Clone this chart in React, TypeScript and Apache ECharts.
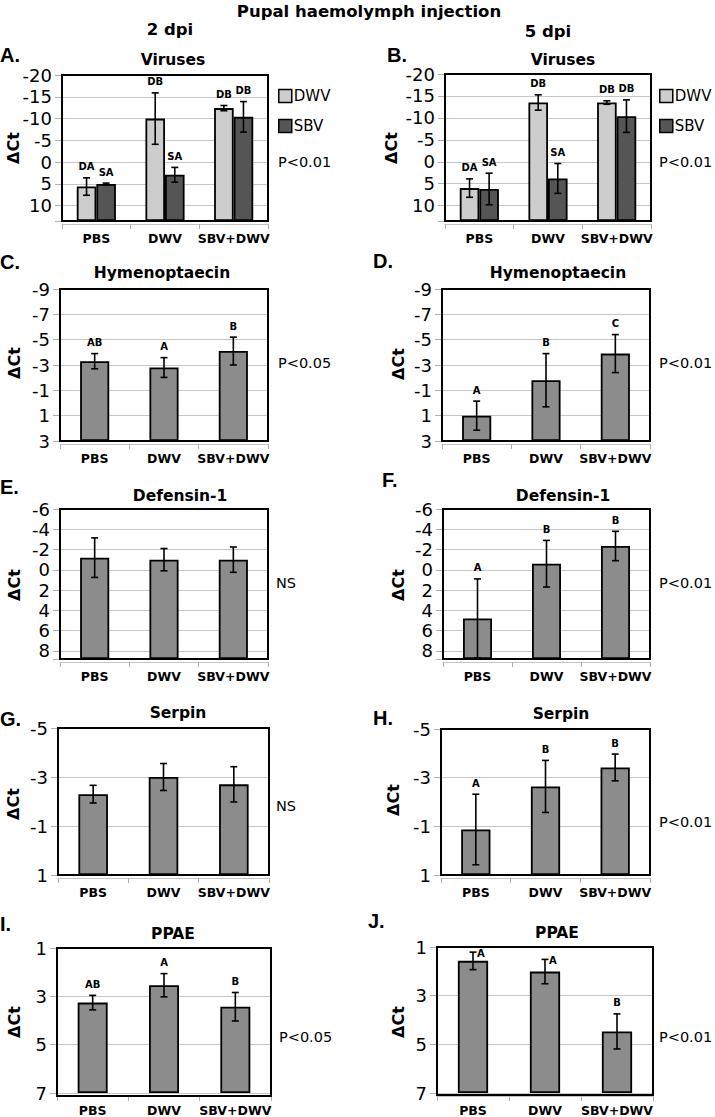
import React, { useEffect, useRef } from 'react';
import * as echarts from 'echarts';

const FONT = '"DejaVu Sans", sans-serif';
const LETTER_FONT = '"Liberation Sans", Arial, sans-serif';

const categories = ['PBS', 'DWV', 'SBV+DWV'];
const legendNames = ['DWV', 'SBV'];

// Axis ranges [min, max, interval]
const virusAxis = [-20, 13.5, 5];
const hymAxis = [-9, 3, 2];
const defAxis = [-6, 8.8, 2];
const serAxis = [-5, 1, 2];
const ppaeAxis = [1, 7, 2];

// A. Viruses 2 dpi
const virus2DWV = [5.6, -10.0, -12.4];
const virus2DWVErr = [2.0, 5.9, 0.6];
const virus2DWVLetters = ['DA', 'DB', 'DB'];
const virus2SBV = [5.0, 2.9, -10.4];
const virus2SBVErr = [0.2, 1.7, 3.5];
const virus2SBVLetters = ['SA', 'SA', 'DB'];

// B. Viruses 5 dpi
const virus5DWV = [6.0, -13.5, -13.5];
const virus5DWVErr = [2.1, 1.75, 0.4];
const virus5DWVLetters = ['DA', 'DB', 'DB'];
const virus5SBV = [6.2, 3.8, -10.4];
const virus5SBVErr = [3.6, 3.4, 3.7];
const virus5SBVLetters = ['SA', 'SA', 'DB'];

// C / D. Hymenoptaecin
const hym2 = [-3.3, -2.8, -4.1];
const hym2Err = [0.6, 0.78, 1.1];
const hym2Letters = ['AB', 'A', 'B'];
const hym5 = [1.0, -1.8, -3.9];
const hym5Err = [1.15, 2.1, 1.5];
const hym5Letters = ['A', 'B', 'C'];

// E / F. Defensin-1
const def2 = [-1.2, -1.0, -1.0];
const def2Err = [1.95, 1.1, 1.25];
const def2Letters = ['', '', ''];
const def5 = [4.8, -0.6, -2.35];
const def5Err = [3.9, 2.3, 1.45];
const def5Letters = ['A', 'B', 'B'];

// G / H. Serpin
const ser2 = [-2.3, -3.0, -2.7];
const ser2Err = [0.36, 0.55, 0.72];
const ser2Letters = ['', '', ''];
const ser5 = [-0.87, -2.64, -3.42];
const ser5Err = [1.45, 1.07, 0.55];
const ser5Letters = ['A', 'B', 'B'];

// I / J. PPAE
const ppae2 = [3.26, 2.54, 3.43];
const ppae2Err = [0.3, 0.48, 0.59];
const ppae2Letters = ['AB', 'A', 'B'];
const ppae5 = [1.57, 2.01, 4.47];
const ppae5Err = [0.36, 0.5, 0.72];
const ppae5Letters = ['A', 'A', 'B'];

const pValues = ['P<0.01', 'P<0.01', 'P<0.05', 'P<0.01', 'NS', 'P<0.01', 'NS', 'P<0.01', 'P<0.05', 'P<0.01'];
const panelTitles = ['Viruses', 'Viruses', 'Hymenoptaecin', 'Hymenoptaecin', 'Defensin-1', 'Defensin-1', 'Serpin', 'Serpin', 'PPAE', 'PPAE'];
const panelLetters = ['A.', 'B.', 'C.', 'D.', 'E.', 'F.', 'G.', 'H.', 'I.', 'J.'];

const DWV_COLOR = '#cdcdcd';
const SBV_COLOR = '#555555';
const BAR_COLOR = '#8c8c8c';

type S = { name?: string; values: number[]; errs: number[]; letters: string[]; color: string };
type Panel = {
  box: number[]; // left, top, right, bottom
  axis: number[];
  series: S[];
  titlePos: number[];
  letterPos: number[];
  yNamePos: number[];
  pPos: number[];
};

const panels: Panel[] = [
  {
    box: [62, 75, 268, 221], axis: virusAxis,
    series: [
      { name: 'DWV', values: virus2DWV, errs: virus2DWVErr, letters: virus2DWVLetters, color: DWV_COLOR },
      { name: 'SBV', values: virus2SBV, errs: virus2SBVErr, letters: virus2SBVLetters, color: SBV_COLOR },
    ],
    titlePos: [173, 60], letterPos: [0, 55], yNamePos: [13, 148], pPos: [278, 162],
  },
  {
    box: [445, 74, 651, 221], axis: virusAxis,
    series: [
      { name: 'DWV', values: virus5DWV, errs: virus5DWVErr, letters: virus5DWVLetters, color: DWV_COLOR },
      { name: 'SBV', values: virus5SBV, errs: virus5SBVErr, letters: virus5SBVLetters, color: SBV_COLOR },
    ],
    titlePos: [563, 60], letterPos: [387, 55], yNamePos: [391, 148], pPos: [659, 162],
  },
  {
    box: [60, 289, 268, 441], axis: hymAxis,
    series: [{ values: hym2, errs: hym2Err, letters: hym2Letters, color: BAR_COLOR }],
    titlePos: [162, 273], letterPos: [0, 262], yNamePos: [14, 363], pPos: [278, 363],
  },
  {
    box: [442, 289, 650, 441], axis: hymAxis,
    series: [{ values: hym5, errs: hym5Err, letters: hym5Letters, color: BAR_COLOR }],
    titlePos: [558, 273], letterPos: [373, 261], yNamePos: [398, 364], pPos: [659, 363],
  },
  {
    box: [60, 509, 268, 659], axis: defAxis,
    series: [{ values: def2, errs: def2Err, letters: def2Letters, color: BAR_COLOR }],
    titlePos: [180, 496], letterPos: [0, 487], yNamePos: [14, 585], pPos: [276, 583],
  },
  {
    box: [443, 509, 650, 659], axis: defAxis,
    series: [{ values: def5, errs: def5Err, letters: def5Letters, color: BAR_COLOR }],
    titlePos: [563, 496], letterPos: [382, 480], yNamePos: [398, 585], pPos: [659, 583],
  },
  {
    box: [58, 728, 269, 875], axis: serAxis,
    series: [{ values: ser2, errs: ser2Err, letters: ser2Letters, color: BAR_COLOR }],
    titlePos: [178, 713], letterPos: [0, 719], yNamePos: [13, 804], pPos: [276, 806],
  },
  {
    box: [441, 729, 650, 875], axis: serAxis,
    series: [{ values: ser5, errs: ser5Err, letters: ser5Letters, color: BAR_COLOR }],
    titlePos: [561, 714], letterPos: [373, 718], yNamePos: [393, 800], pPos: [659, 822],
  },
  {
    box: [57, 948, 271, 1096], axis: ppaeAxis,
    series: [{ values: ppae2, errs: ppae2Err, letters: ppae2Letters, color: BAR_COLOR }],
    titlePos: [173, 934], letterPos: [0, 924], yNamePos: [14, 1022], pPos: [279, 1037],
  },
  {
    box: [437, 947, 653, 1095], axis: ppaeAxis,
    series: [{ values: ppae5, errs: ppae5Err, letters: ppae5Letters, color: BAR_COLOR }],
    titlePos: [557, 933], letterPos: [368, 921], yNamePos: [398, 1022], pPos: [659, 1037],
  },
];

function errorSeries(k: number, s: S, shift: number) {
  return {
    type: 'custom',
    xAxisIndex: k,
    yAxisIndex: k,
    z: 5,
    clip: false,
    silent: true,
    data: s.values.map((v, i) => [i, v, s.errs[i]]),
    encode: { x: 0, y: 1 },
    renderItem: (params: any, api: any) => {
      const i = api.value(0);
      const v = api.value(1);
      const e = api.value(2);
      const band = api.size([1, 0])[0];
      const x = api.coord([i, v])[0] + shift * band;
      const y1 = api.coord([i, v - e])[1];
      const y2 = api.coord([i, v + e])[1];
      const top = Math.min(y1, y2);
      const bot = Math.max(y1, y2);
      const cw = 3.5;
      const ls = { stroke: '#000', lineWidth: 1.6 };
      const children: any[] = [
        { type: 'line', shape: { x1: x, y1: top, x2: x, y2: bot }, style: ls },
        { type: 'line', shape: { x1: x - cw, y1: top, x2: x + cw, y2: top }, style: ls },
        { type: 'line', shape: { x1: x - cw, y1: bot, x2: x + cw, y2: bot }, style: ls },
      ];
      const letter = s.letters[params.dataIndex];
      if (letter) {
        const gridTop = params.coordSys.y;
        const above = top - 16 >= gridTop;
        children.push({
          type: 'text',
          style: {
            text: letter,
            x: above ? x : x + 4,
            y: above ? top - 11 : top + 1,
            align: above ? 'center' : 'left',
            verticalAlign: 'middle',
            fontSize: 10,
            fontWeight: 'bold',
            fontFamily: FONT,
            fill: '#000',
          },
        });
      }
      return { type: 'group', children };
    },
  };
}

function buildOption() {
  const grid: any[] = [];
  const xAxis: any[] = [];
  const yAxis: any[] = [];
  const series: any[] = [];
  const graphic: any[] = [];

  panels.forEach((p, k) => {
    const [l, t, r, b] = p.box;
    const [min, max, interval] = p.axis;
    grid.push({ left: l, top: t, width: r - l, height: b - t, show: true, backgroundColor: '#fff', borderWidth: 0 });
    xAxis.push({
      gridIndex: k,
      type: 'category',
      data: categories,
      offset: 3,
      axisLine: { show: true, onZero: false, lineStyle: { color: '#c4c4c4', width: 1 } },
      axisTick: { show: true, length: 5, lineStyle: { color: '#b0b0b0' } },
      axisLabel: { interval: 0, fontFamily: FONT, fontWeight: 'bold', fontSize: 12.5, color: '#000', margin: 8 },
      splitLine: { show: false },
    });
    yAxis.push({
      gridIndex: k,
      type: 'value',
      inverse: true,
      min,
      max,
      interval,
      startValue: max,
      axisLine: { show: false },
      axisTick: { show: true, length: 7, lineStyle: { color: '#b0b0b0' } },
      axisLabel: {
        fontFamily: FONT,
        fontSize: 18,
        color: '#000',
        margin: 10,
        formatter: (v: number) => {
          const q = (v - min) / interval;
          return Math.abs(q - Math.round(q)) < 1e-6 ? String(v) : '';
        },
      },
      splitLine: { show: true, lineStyle: { color: '#c6c6c6', width: 1 } },
    });
    const grouped = p.series.length > 1;
    p.series.forEach((s, j) => {
      series.push({
        type: 'bar',
        name: s.name,
        xAxisIndex: k,
        yAxisIndex: k,
        data: s.values,
        barGap: '0%',
        barCategoryGap: grouped ? '43%' : '58%',
        itemStyle: { color: s.color, borderColor: '#000', borderWidth: 1.8 },
        z: 2,
      });
      const shift = grouped ? (j === 0 ? -1 : 1) * (1 - 0.43) / 4 : 0;
      series.push(errorSeries(k, s, shift));
    });

    // plot border
    graphic.push({
      type: 'rect',
      shape: { x: l, y: t, width: r - l, height: b - t },
      style: { fill: 'none', stroke: '#000', lineWidth: 2 },
      z: 100,
      silent: true,
    });
    graphic.push({
      type: 'text',
      x: p.titlePos[0],
      y: p.titlePos[1],
      style: { text: panelTitles[k], align: 'center', verticalAlign: 'middle', fontFamily: FONT, fontWeight: 'bold', fontSize: 15.5, fill: '#000' },
    });
    graphic.push({
      type: 'text',
      x: p.letterPos[0],
      y: p.letterPos[1],
      style: { text: panelLetters[k], align: 'left', verticalAlign: 'middle', fontFamily: LETTER_FONT, fontWeight: 'bold', fontSize: 20, fill: '#000' },
    });
    graphic.push({
      type: 'text',
      x: p.yNamePos[0],
      y: p.yNamePos[1],
      rotation: Math.PI / 2,
      style: { text: 'ΔCt', align: 'center', verticalAlign: 'middle', fontFamily: FONT, fontWeight: 'bold', fontSize: 16, fill: '#000' },
    });
    graphic.push({
      type: 'text',
      x: p.pPos[0],
      y: p.pPos[1],
      style: { text: pValues[k], align: 'left', verticalAlign: 'middle', fontFamily: FONT, fontSize: 14.5, fill: '#000' },
    });
  });

  graphic.push({
    type: 'text', x: 369, y: 11,
    style: { text: 'Pupal haemolymph injection', align: 'center', verticalAlign: 'middle', fontFamily: FONT, fontWeight: 'bold', fontSize: 16.5, fill: '#000' },
  });
  graphic.push({
    type: 'text', x: 170, y: 29,
    style: { text: '2 dpi', align: 'center', verticalAlign: 'middle', fontFamily: FONT, fontWeight: 'bold', fontSize: 16.5, fill: '#000' },
  });
  graphic.push({
    type: 'text', x: 548, y: 31,
    style: { text: '5 dpi', align: 'center', verticalAlign: 'middle', fontFamily: FONT, fontWeight: 'bold', fontSize: 16.5, fill: '#000' },
  });

  const legendBase = {
    orient: 'vertical',
    data: legendNames,
    icon: 'rect',
    itemWidth: 13,
    itemHeight: 13,
    itemGap: 14,
    padding: 0,
    selectedMode: false,
    itemStyle: { borderColor: '#000', borderWidth: 1.5 },
    textStyle: { fontFamily: FONT, fontSize: 15, color: '#000', lineHeight: 16, padding: [0, 0, 0, -3] },
  };

  return {
    animation: false,
    backgroundColor: '#fff',
    legend: [
      { ...legendBase, left: 278, top: 88 },
      { ...legendBase, left: 659, top: 88 },
    ],
    grid,
    xAxis,
    yAxis,
    series,
    graphic,
  };
}

export default function App() {
  const ref = useRef<HTMLDivElement>(null);
  useEffect(() => {
    const chart = echarts.init(ref.current!, null, { renderer: 'svg' });
    chart.setOption(buildOption() as any);
    return () => chart.dispose();
  }, []);
  return (
    <div
      ref={ref}
      style={{ position: 'absolute', left: 0, top: 0, width: 715, height: 1117, background: '#fff' }}
    />
  );
}
